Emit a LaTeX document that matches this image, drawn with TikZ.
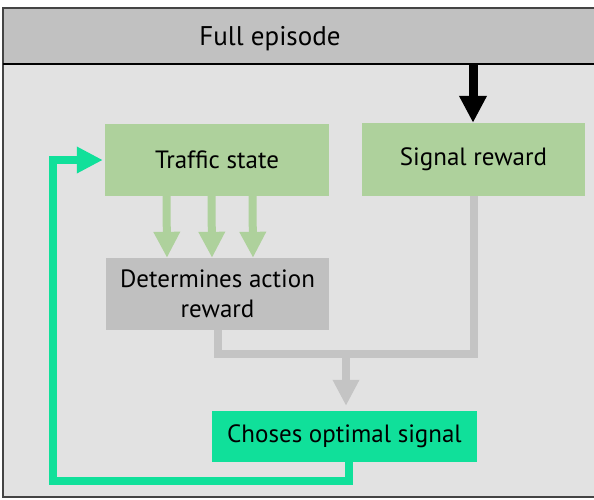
\documentclass[tikz,border=0pt]{standalone}
\usepackage{fontspec}
\setmainfont{PT Sans}
\usetikzlibrary{arrows.meta,calc}
\definecolor{headfill}{HTML}{C1C1C1}
\definecolor{bodyfill}{HTML}{E2E2E2}
\definecolor{framecol}{HTML}{444444}
\definecolor{stategreen}{HTML}{AED19C}
\definecolor{greybox}{HTML}{C0C0C0}
\definecolor{linegrey}{HTML}{C4C4C4}
\definecolor{mint}{HTML}{10E09A}
\tikzset{
  box/.style={inner sep=0pt, font=\fontsize{25}{30}\selectfont, align=center},
  fatarrow/.style={line width=8pt, -{Triangle[width=25pt,length=26pt]}},
  fatline/.style={line width=8pt}
}
\begin{document}
\begin{tikzpicture}[x=1pt,y=-1pt]
  \useasboundingbox (0,0) rectangle (594,499);
  \fill[white] (0,0) rectangle (594,499);
  \begin{scope}
    \clip (0,0) rectangle (594,499);
    % episode frame: header band and body
    \fill[bodyfill] (3,8) rectangle (610,497);
    \fill[headfill] (3,8) rectangle (610,64);
    \draw[framecol, line width=1.5pt] (3,8) rectangle (610,497);
    \draw[black, line width=2.5pt] (3,64) -- (610,64);
  \end{scope}
  \node[box, font=\fontsize{27}{32}\selectfont] (head) at (270,39) {Full episode};
  \coordinate (headbot) at (473,64);

  % boxes
  \node[box, fill=stategreen, minimum width=224pt, minimum height=72pt] (traffic) at (217,160) {Traffic state};
  \node[box, fill=stategreen, minimum width=223pt, minimum height=73pt] (signal) at (473.5,159.5) {Signal reward};
  \node[box, fill=greybox, minimum width=223pt, minimum height=72pt] (determ) at (217.5,294) {Determines action\\reward};
  \node[box, fill=mint, minimum width=265pt, minimum height=51pt] (choose) at (344.5,436.5) {Choses optimal signal};

  % episode start feeds the signal reward
  \draw[black, fatarrow, line width=9pt, -{Triangle[width=26pt,length=27pt]}] (headbot) -- (signal.north -| headbot);

  % traffic state feeds the action reward
  \foreach \dx in {-50.5,-5.5,35.5}
    \draw[stategreen, fatarrow] ($(traffic.south)+(\dx,0)$) -- ($(determ.north)+(\dx,0)$);

  % both rewards merge into the signal choice
  \coordinate (merge) at (346,354);
  \draw[linegrey, fatline] (determ.south) |- (merge) -| (signal.south);
  \draw[linegrey, fatarrow] (merge) -- ($(choose.north -| merge)+(0,-5)$);

  % feedback loop back to the traffic state
  \coordinate (fbA) at ($(choose.south)+(4.5,0)$);
  \coordinate (fbB) at (349,481);
  \coordinate (fbC) at (53,481);
  \coordinate (fbD) at (53,160);
  \draw[mint, line width=8pt, line join=miter, -{Triangle[width=25pt,length=26pt]}]
    (fbA) -- (fbB) -- (fbC) -- (fbD) -- ($(traffic.west)+(-2,0)$);
\end{tikzpicture}
\end{document}
